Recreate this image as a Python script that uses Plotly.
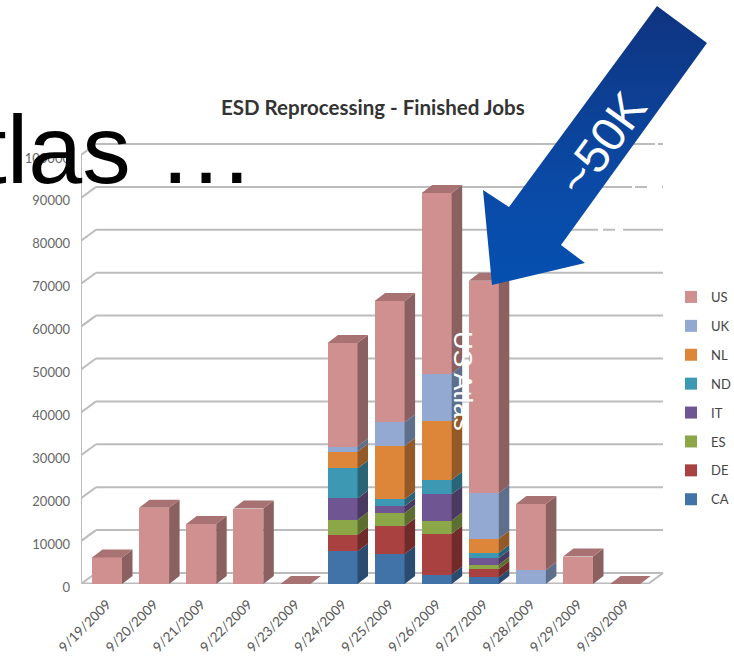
import plotly.graph_objects as go

# Finished jobs per day, by cloud
dates = ["9/19/2009", "9/20/2009", "9/21/2009", "9/22/2009", "9/23/2009", "9/24/2009",
         "9/25/2009", "9/26/2009", "9/27/2009", "9/28/2009", "9/29/2009", "9/30/2009"]
CA = [0, 0, 0, 0, 0, 7600, 7000, 2200, 1550, 0, 0, 0]
DE = [0, 0, 0, 0, 0, 3900, 6450, 9500, 1950, 0, 0, 0]
ES = [0, 0, 0, 0, 0, 3400, 3100, 3100, 1000, 0, 0, 0]
IT = [0, 0, 0, 0, 0, 5050, 1550, 6100, 1550, 0, 0, 0]
ND = [0, 0, 0, 0, 0, 7000, 1650, 3400, 1250, 0, 0, 0]
NL = [0, 0, 0, 0, 0, 3900, 12400, 13750, 3250, 0, 0, 0]
UK = [0, 0, 0, 0, 0, 1200, 5500, 11000, 10650, 3250, 0, 0]
US = [6200, 17800, 14000, 17600, 0, 24100, 28300, 42100, 49500, 15400, 6400, 0]

series = [("CA", CA), ("DE", DE), ("ES", ES), ("IT", IT),
          ("ND", ND), ("NL", NL), ("UK", UK), ("US", US)]
front = {"CA": "#4172a8", "DE": "#a8413f", "ES": "#8ca748", "IT": "#6f5592",
         "ND": "#3d98b3", "NL": "#dd863a", "UK": "#93a9d1", "US": "#d09090"}
side = {"CA": "#2b4c70", "DE": "#702b2a", "ES": "#5d6f30", "IT": "#4a3961",
        "ND": "#296577", "NL": "#935927", "UK": "#5e6f8c", "US": "#8a6060"}
top_face = "#a87272"
y_ticks = list(range(0, 100001, 10000))

# Pixel layout of the canvas and the oblique projection
W, H = 734, 656
X0_PX, X_STEP = 107, 47.1
Y0_PX, Y_PER_10K = 584, 42.9
LEFT_PX = 81


def dx(px):
    return (px - X0_PX) / X_STEP


def dy(py):
    return (Y0_PX - py) / Y_PER_10K * 10000


BAR_W = 30 / X_STEP
BAR_DX = 10.5 / X_STEP
BAR_DY = 8 / Y_PER_10K * 10000
WALL_DX = 15 / X_STEP
WALL_DY = 11 / Y_PER_10K * 10000
FLOOR_END = dx(648)

fig = go.Figure()

for rank, (name, vals) in enumerate(reversed(series)):
    fig.add_trace(go.Bar(
        x=list(range(len(dates))), y=vals, name=name, width=BAR_W,
        marker=dict(color=front[name], line=dict(width=0)),
        legendgroup=name, legendrank=rank + 1,
    ))
fig.data = tuple(reversed(fig.data))

# Right-hand faces of each stack segment
base = [0] * len(dates)
for name, vals in series:
    xs, ys = [], []
    for i, v in enumerate(vals):
        if v > 0:
            xr = i + BAR_W / 2
            xs += [xr, xr + BAR_DX, xr + BAR_DX, xr, xr, None]
            ys += [base[i], base[i] + BAR_DY, base[i] + v + BAR_DY, base[i] + v, base[i], None]
        base[i] += v
    fig.add_trace(go.Scatter(x=xs, y=ys, mode="lines", fill="toself", fillcolor=side[name],
                             line=dict(width=0), showlegend=False, hoverinfo="skip"))

# Top faces of the stacks
xs, ys = [], []
for i, total in enumerate(base):
    xl, xr = i - BAR_W / 2, i + BAR_W / 2
    xs += [xl, xr, xr + BAR_DX, xl + BAR_DX, xl, None]
    ys += [total, total, total + BAR_DY, total + BAR_DY, total, None]
fig.add_trace(go.Scatter(x=xs, y=ys, mode="lines", fill="toself", fillcolor=top_face,
                         line=dict(width=0), showlegend=False, hoverinfo="skip"))

# Callout arrow pointing at the 9/27 stack
arrow_px = [(657, 6), (707, 43), (561, 245), (585, 263), (492, 285), (483, 190), (509, 207), (657, 6)]
fig.add_trace(go.Scatter(
    x=[dx(p[0]) for p in arrow_px], y=[dy(p[1]) for p in arrow_px],
    mode="lines", line=dict(width=0), fill="toself", showlegend=False, hoverinfo="skip",
    fillgradient=dict(type="vertical", colorscale=[[0, "#0550b0"], [0.35, "#0a4aa6"], [1, "#0f3480"]]),
))

# Back wall, floor and side wall rules
grid = dict(color="#bcbcbc", width=2)
shapes = []
x_left = dx(LEFT_PX)
for t in y_ticks:
    shapes.append(dict(type="line", xref="x", yref="y", layer="below", line=grid,
                       x0=x_left + WALL_DX, x1=FLOOR_END + WALL_DX, y0=t + WALL_DY, y1=t + WALL_DY))
    shapes.append(dict(type="line", xref="x", yref="y", layer="below", line=grid,
                       x0=x_left, x1=x_left + WALL_DX, y0=t, y1=t + WALL_DY))
shapes.append(dict(type="line", xref="x", yref="y", layer="below", line=grid,
                   x0=x_left, x1=x_left, y0=0, y1=100000))
shapes.append(dict(type="line", xref="x", yref="y", layer="below", line=dict(color="#bcbcbc", width=3),
                   x0=x_left, x1=FLOOR_END, y0=0, y1=0))
shapes.append(dict(type="line", xref="x", yref="y", layer="below", line=grid,
                   x0=FLOOR_END, x1=FLOOR_END + WALL_DX, y0=0, y1=WALL_DY))

# Breaks in the upper rules near the right end of the wall
rule_breaks = [(100000, 655, 658), (90000, 632, 635), (90000, 647, 662),
               (80000, 598, 603), (80000, 615, 623)]
for t, a, b in rule_breaks:
    shapes.append(dict(type="line", xref="x", yref="y", layer="below",
                       line=dict(color="#ffffff", width=4),
                       x0=dx(a), x1=dx(b), y0=t + WALL_DY, y1=t + WALL_DY))


def px_x(p):
    return (p - LEFT_PX) / (W - LEFT_PX)


def px_y(p):
    return (Y0_PX - p) / Y0_PX


sans = "Liberation Sans"
annotations = [
    dict(text="ESD Reprocessing - Finished Jobs", xref="paper", yref="paper",
         x=px_x(373), y=px_y(107), xanchor="center", yanchor="middle", showarrow=False,
         font=dict(family="Lato", size=20.5, color="#333333", weight="bold")),
    dict(text="Atlas …", xref="paper", yref="paper", x=px_x(256.5), y=px_y(185),
         xanchor="right", yanchor="bottom", yshift=-21, showarrow=False,
         font=dict(family=sans, size=97, color="#000000")),
    dict(text="~50K", xref="paper", yref="paper", x=px_x(601), y=px_y(144), textangle=-54,
         xanchor="center", yanchor="middle",
         showarrow=False, font=dict(family=sans, size=48, color="#ffffff")),
    dict(text="US Atlas", xref="paper", yref="paper", x=px_x(463), y=px_y(381), textangle=90,
         xanchor="center", yanchor="middle",
         showarrow=False, font=dict(family=sans, size=26, color="#ffffff")),
]

fig.update_layout(
    width=W, height=H, autosize=False,
    margin=dict(l=LEFT_PX, r=0, t=0, b=H - Y0_PX, pad=0, autoexpand=False),
    paper_bgcolor="#ffffff", plot_bgcolor="rgba(0,0,0,0)",
    barmode="stack", bargap=0,
    shapes=shapes, annotations=annotations,
    legend=dict(x=px_x(671), y=px_y(282), xanchor="left", yanchor="top",
                traceorder="grouped", tracegroupgap=9,
                font=dict(family="Lato", size=13, color="#444444"),
                bgcolor="rgba(0,0,0,0)"),
    xaxis=dict(range=[dx(LEFT_PX), dx(W)], tickmode="array", automargin=False,
               tickvals=list(range(len(dates))), ticktext=dates, tickangle=-45,
               showgrid=False, zeroline=False, showline=False, ticklen=0,
               ticklabelstandoff=9, tickfont=dict(family="Lato", size=13.5, color="#555555")),
    yaxis=dict(range=[0, dy(0)], tickmode="array", tickvals=y_ticks, tickformat="d", automargin=False,
               showgrid=False, zeroline=False, showline=False, ticklen=0,
               ticklabelstandoff=10, ticklabelshift=3,
               tickfont=dict(family="Lato", size=13, color="#666666")),
)

fig.write_html("out.html")
